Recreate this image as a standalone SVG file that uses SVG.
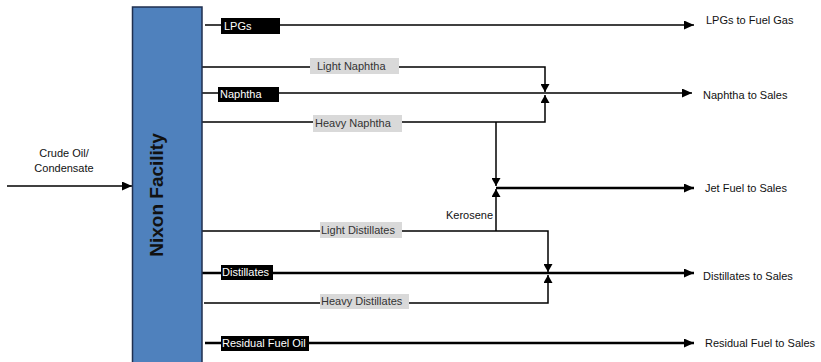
<svg xmlns="http://www.w3.org/2000/svg" width="821" height="362" viewBox="0 0 821 362">
<style>
text{font-family:"Liberation Sans","Open Sans",sans-serif;font-size:11px}
.out{fill:#111}
.blk rect{fill:#000}
.blk text{fill:#fff}
.gry rect{fill:#d9d9d9}
.gry text{fill:#333}
.ln{fill:none;stroke:#000;stroke-width:1.5}
.thk{fill:none;stroke:#000;stroke-width:2.5}
</style>
<defs>
<marker id="ah" markerUnits="userSpaceOnUse" markerWidth="11" markerHeight="9" refX="10" refY="4.5" orient="auto"><path d="M0,0 L10,4.5 L0,9 z" fill="#000"/></marker>
<marker id="ahs" markerUnits="userSpaceOnUse" markerWidth="9" markerHeight="9" refX="8" refY="4.5" orient="auto"><path d="M0,0 L8,4.5 L0,9 z" fill="#000"/></marker>
</defs>
<rect width="821" height="362" fill="#fff"/>
<g id="connectors">
<path class="ln" d="M7,186 H132" marker-end="url(#ah)"/>
<path class="ln" d="M205,25 H694" marker-end="url(#ah)"/>
<path class="ln" d="M202,67 H545 V92" marker-end="url(#ahs)"/>
<path class="ln" d="M202,93 H692" marker-end="url(#ah)"/>
<path class="ln" d="M202,122 H545 V95" marker-end="url(#ahs)"/>
<path class="ln" d="M496,122 V186" marker-end="url(#ahs)"/>
<path class="ln" d="M496,231 V189" marker-end="url(#ahs)"/>
<path class="thk" d="M496,188 H694" marker-end="url(#ah)"/>
<path class="ln" d="M202,231 H548 V272" marker-end="url(#ahs)"/>
<path class="thk" d="M202,273 H694" marker-end="url(#ah)"/>
<path class="ln" d="M204,303 H548 V275" marker-end="url(#ahs)"/>
<path class="thk" d="M205,343 H694" marker-end="url(#ah)"/>
</g>
<g id="facility">
<rect x="132.5" y="7" width="69.5" height="360" fill="#4f81bd" stroke="#1f2f4f" stroke-width="1.5"/>
<text transform="translate(163,195) rotate(-90)" text-anchor="middle" style="font-size:19px;font-weight:bold" fill="#111">Nixon Facility</text>
</g>
<g id="crude-label"><text class="out" x="64" y="157" text-anchor="middle">Crude Oil/</text><text class="out" x="64" y="172" text-anchor="middle">Condensate</text></g>
<g id="lpgs" class="blk"><rect x="221" y="18" width="59" height="16"/><text x="224" y="30">LPGs</text></g>
<g id="light-naphtha" class="gry"><rect x="310" y="58" width="89" height="16"/><text x="317" y="70">Light Naphtha</text></g>
<g id="naphtha" class="blk"><rect x="218" y="87" width="61" height="15"/><text x="220" y="98">Naphtha</text></g>
<g id="heavy-naphtha" class="gry"><rect x="313" y="115" width="89" height="17"/><text x="315" y="127">Heavy Naphtha</text></g>
<g id="kerosene"><text class="out" x="446" y="219">Kerosene</text></g>
<g id="light-distillates" class="gry"><rect x="320" y="222" width="82" height="16"/><text x="321" y="234">Light Distillates</text></g>
<g id="distillates" class="blk"><rect x="221" y="265" width="52" height="15"/><text x="222" y="276">Distillates</text></g>
<g id="heavy-distillates" class="gry"><rect x="320" y="294" width="89" height="15"/><text x="321" y="305">Heavy Distillates</text></g>
<g id="residual" class="blk"><rect x="221" y="336" width="88" height="15"/><text x="222" y="347">Residual Fuel Oil</text></g>
<g id="out-lpgs"><text class="out" x="706" y="24">LPGs to Fuel Gas</text></g>
<g id="out-naphtha"><text class="out" x="703" y="99">Naphtha to Sales</text></g>
<g id="out-jet"><text class="out" x="705" y="192">Jet Fuel to Sales</text></g>
<g id="out-distillates"><text class="out" x="703" y="280">Distillates to Sales</text></g>
<g id="out-residual"><text class="out" x="705" y="347">Residual Fuel to Sales</text></g>
</svg>
